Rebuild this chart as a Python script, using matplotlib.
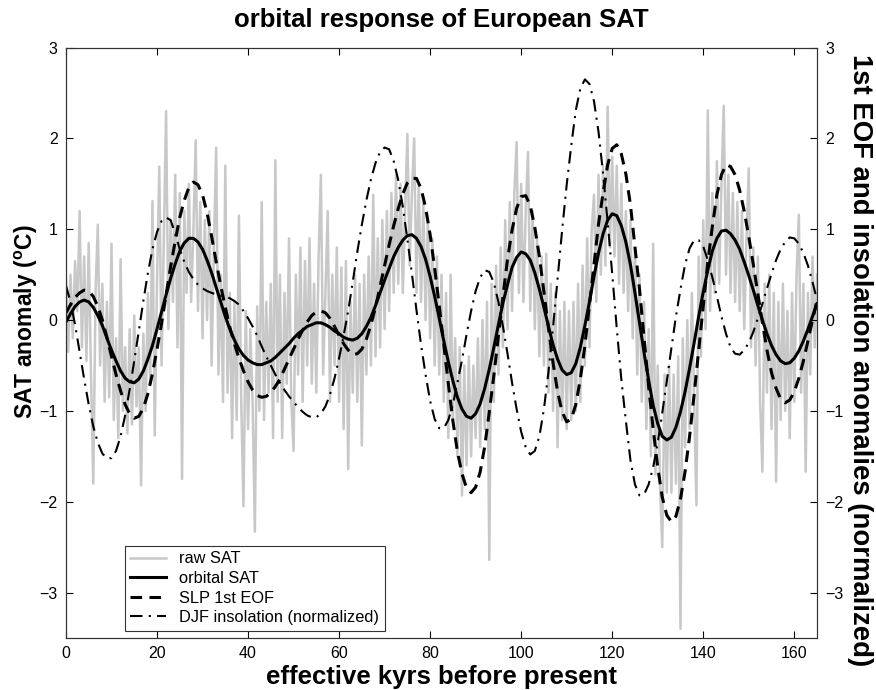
import numpy as np
import matplotlib
matplotlib.use("Agg")
import matplotlib.pyplot as plt

plt.rcParams['font.family'] = ['Liberation Sans', 'DejaVu Sans']

title = "orbital response of European SAT"
xlabel = "effective kyrs before present"
ylabel_left = "SAT anomaly ($^{\\mathregular{o}}$C)"
ylabel_right = "1st EOF and insolation anomalies (normalized)"
legend_labels = ["raw SAT", "orbital SAT", "SLP 1st EOF", "DJF insolation (normalized)"]
x_ticks = [0, 20, 40, 60, 80, 100, 120, 140, 160]
y_ticks = [-3, -2, -1, 0, 1, 2, 3]

# smooth series, one value per kyr (0..165)
orbital_sat = [
    -0.02, 0.07, 0.15, 0.20, 0.22, 0.20, 0.14, 0.05, -0.06, -0.20,
    -0.33, -0.45, -0.56, -0.64, -0.68, -0.69, -0.65, -0.56, -0.43, -0.28,
    -0.10, 0.09, 0.28, 0.46, 0.62, 0.76, 0.85, 0.90, 0.90, 0.86,
    0.78, 0.66, 0.52, 0.36, 0.20, 0.04, -0.10, -0.22, -0.32, -0.39,
    -0.44, -0.47, -0.49, -0.49, -0.47, -0.45, -0.41, -0.36, -0.31, -0.26,
    -0.20, -0.15, -0.11, -0.07, -0.05, -0.03, -0.03, -0.05, -0.08, -0.12,
    -0.15, -0.19, -0.21, -0.22, -0.20, -0.15, -0.07, 0.03, 0.16, 0.30,
    0.44, 0.57, 0.70, 0.80, 0.88, 0.93, 0.94, 0.90, 0.81, 0.67,
    0.48, 0.26, 0.02, -0.23, -0.46, -0.67, -0.85, -0.98, -1.06, -1.08,
    -1.03, -0.92, -0.75, -0.54, -0.30, -0.05, 0.19, 0.39, 0.58, 0.69,
    0.75, 0.73, 0.66, 0.52, 0.34, 0.14, -0.07, -0.27, -0.43, -0.55,
    -0.60, -0.58, -0.48, -0.30, -0.06, 0.20, 0.48, 0.74, 0.95, 1.10,
    1.17, 1.15, 1.04, 0.86, 0.61, 0.30, -0.03, -0.36, -0.66, -0.94,
    -1.14, -1.28, -1.32, -1.29, -1.18, -1.01, -0.79, -0.53, -0.25, 0.04,
    0.31, 0.55, 0.76, 0.90, 0.98, 0.99, 0.95, 0.88, 0.78, 0.64,
    0.49, 0.33, 0.16, 0.00, -0.15, -0.28, -0.38, -0.45, -0.48, -0.47,
    -0.42, -0.34, -0.23, -0.10, 0.04, 0.18]

slp_eof = [
    0.08, 0.17, 0.25, 0.30, 0.33, 0.32, 0.26, 0.15, 0.00, -0.19,
    -0.40, -0.60, -0.78, -0.93, -1.03, -1.08, -1.06, -0.97, -0.81, -0.59,
    -0.32, -0.04, 0.28, 0.59, 0.87, 1.13, 1.32, 1.46, 1.52, 1.49,
    1.38, 1.18, 0.92, 0.64, 0.38, 0.14, -0.08, -0.26, -0.42, -0.56,
    -0.68, -0.77, -0.83, -0.85, -0.84, -0.80, -0.73, -0.65, -0.54, -0.43,
    -0.32, -0.21, -0.11, -0.02, 0.05, 0.09, 0.10, 0.08, 0.02, -0.07,
    -0.17, -0.26, -0.33, -0.38, -0.37, -0.32, -0.21, -0.05, 0.14, 0.37,
    0.60, 0.83, 1.04, 1.23, 1.39, 1.51, 1.56, 1.56, 1.45, 1.24,
    0.94, 0.57, 0.16, -0.27, -0.70, -1.11, -1.45, -1.69, -1.85, -1.90,
    -1.84, -1.67, -1.39, -1.01, -0.61, -0.17, 0.26, 0.67, 0.99, 1.23,
    1.36, 1.37, 1.26, 1.02, 0.70, 0.31, -0.09, -0.47, -0.79, -1.01,
    -1.12, -1.09, -0.93, -0.65, -0.28, 0.16, 0.61, 1.06, 1.40, 1.71,
    1.89, 1.93, 1.83, 1.61, 1.27, 0.81, 0.34, -0.20, -0.73, -1.20,
    -1.62, -1.95, -2.15, -2.22, -2.16, -1.97, -1.67, -1.28, -0.82, -0.33,
    0.17, 0.64, 1.03, 1.38, 1.60, 1.71, 1.69, 1.60, 1.43, 1.20,
    0.92, 0.61, 0.29, -0.03, -0.33, -0.58, -0.75, -0.87, -0.91, -0.88,
    -0.79, -0.64, -0.45, -0.23, 0.00, 0.22]

djf_insolation = [
    0.38, 0.20, -0.05, -0.35, -0.65, -0.93, -1.17, -1.35, -1.47, -1.52,
    -1.52, -1.44, -1.28, -1.05, -0.76, -0.45, -0.12, 0.21, 0.52, 0.78,
    0.97, 1.09, 1.13, 1.10, 0.95, 0.78, 0.64, 0.53, 0.45, 0.39,
    0.35, 0.32, 0.30, 0.28, 0.27, 0.26, 0.24, 0.21, 0.17, 0.10,
    0.02, -0.07, -0.17, -0.29, -0.40, -0.50, -0.60, -0.69, -0.77, -0.84,
    -0.90, -0.96, -1.01, -1.05, -1.07, -1.07, -1.03, -0.95, -0.82, -0.64,
    -0.42, -0.17, 0.10, 0.42, 0.75, 1.05, 1.32, 1.55, 1.73, 1.85,
    1.90, 1.88, 1.75, 1.54, 1.25, 0.89, 0.51, 0.11, -0.27, -0.60,
    -0.89, -1.09, -1.19, -1.19, -1.10, -0.93, -0.69, -0.44, -0.16, 0.10,
    0.32, 0.47, 0.55, 0.53, 0.41, 0.20, -0.07, -0.37, -0.69, -0.98,
    -1.23, -1.40, -1.48, -1.44, -1.28, -0.98, -0.57, -0.08, 0.45, 0.99,
    1.49, 1.92, 2.31, 2.55, 2.65, 2.60, 2.41, 2.07, 1.61, 1.08,
    0.51, -0.09, -0.65, -1.11, -1.54, -1.81, -1.93, -1.92, -1.81, -1.62,
    -1.35, -1.02, -0.67, -0.31, 0.04, 0.34, 0.61, 0.79, 0.88, 0.88,
    0.81, 0.66, 0.47, 0.26, 0.04, -0.15, -0.30, -0.37, -0.38, -0.33,
    -0.25, -0.13, 0.02, 0.18, 0.35, 0.51, 0.66, 0.78, 0.86, 0.91,
    0.90, 0.84, 0.74, 0.60, 0.42, 0.22]

# raw SAT, one value per 0.5 kyr (0..165)
raw_sat = [
    0.45, -0.35, 0.5, -0.2, 0.65, 0.1, 1.2, -0.3, 0.7, -0.45,
    0.85, -0.6, -1.8, 0.3, 1.05, -0.5, 0.4, -0.9, 0.2, -0.85,
    0.84, -1.1, -0.2, -1.3, 0.67, -1.0, -0.3, -1.25, -0.1, -1.15,
    0.05, -0.95, -0.3, -1.82, -0.15, -1.0, 0.3, -0.7, 1.31, -1.27,
    0.4, 1.69, -0.5, 0.9, 2.3, -0.1, 1.1, 0.2, 1.6, -0.3,
    1.4, -1.75, 1.2, 0.3, 1.5, 0.2, 1.0, 1.98, 0.1, 1.3,
    -0.2, 1.1, 0.0, 1.2, -0.5, 0.8, 1.9, -0.6, 0.5, -0.9,
    1.7, -0.8, 0.3, -1.3, 0.2, -1.1, 1.15, -0.9, -2.05, 0.1,
    -1.2, -0.1, -0.9, -2.33, 0.15, -1.0, 1.3, -1.1, 0.2, -0.8,
    0.4, -1.3, 1.76, -0.9, 0.5, -1.3, 0.3, -0.7, 0.9, -0.9,
    -1.44, 0.5, -0.6, 0.8, -0.9, 0.65, -0.5, 0.9, -0.7, 0.4,
    -0.8, 0.7, 1.6, -0.6, 0.3, 1.2, -0.9, 0.5, -0.5, 0.8,
    -0.9, 0.58, -1.2, 0.65, -1.64, 0.2, -0.8, 0.5, -0.9, 0.4,
    -1.38, 0.5, -0.6, 0.7, -0.5, 1.38, -0.4, 0.9, -0.3, 1.1,
    -0.1, 1.2, 0.1, 1.4, 0.3, 1.6, 0.4, 1.5, 0.3, 1.2,
    2.05, 0.6, 1.4, 2.0, 0.3, 1.5, 0.2, 1.3, 0.0, 1.1,
    -0.2, 0.9, -0.5, 0.7, -0.6, 0.5, -0.9, 0.3, -1.3, 0.5,
    -1.1, -0.2, -1.5, -0.3, -1.93, -0.5, -1.6, -0.4, -1.5, -0.5,
    -1.3, -0.2, -1.4, 0.0, -1.2, 0.2, -2.64, 0.4, -0.9, 0.6,
    -0.6, 0.8, -0.3, 1.1, -0.1, 1.3, 0.1, 1.4, 1.96, 0.3,
    1.5, 0.2, 1.2, 1.85, 0.1, 1.2, -0.1, 0.9, -0.4, 0.7,
    -0.5, 0.73, -0.8, 0.4, -1.0, 0.3, -1.4, 0.1, -1.1, 0.2,
    -1.2, 0.1, -1.1, 0.2, -1.0, 0.4, -0.9, 0.6, -0.5, 0.9,
    -0.3, 1.0, 1.38, 0.2, 1.6, 0.5, 1.7, 0.6, 2.35, 0.8,
    1.8, 0.7, 1.7, 0.4, 1.5, 0.3, 1.2, 0.1, 1.1, -0.2,
    0.8, -0.6, 0.5, -0.9, 0.2, -1.2, -0.1, -1.5, 0.84, -1.7,
    -0.5, -1.8, -2.5, -0.6, -1.9, -0.5, -1.9, -0.6, -1.8, -0.4,
    -3.4, -0.2, -1.4, 0.0, -1.2, 0.3, -0.9, -2.04, 0.7, -0.4,
    1.1, -0.1, 2.31, 0.1, 1.4, 0.3, 1.75, 0.4, 1.5, 2.36,
    0.5, 1.6, 0.3, 1.4, 0.2, 1.3, 0.1, 1.2, -0.1, 0.9,
    1.67, -0.3, 0.8, -0.5, 0.7, -0.9, -1.67, 0.4, -0.8, 0.5,
    -1.2, 0.3, -1.78, 0.2, -1.1, 0.4, -1.0, 0.1, -1.3, 0.3,
    -0.9, 0.5, 1.16, -0.8, 0.4, -1.67, 0.3, -0.6, 0.7, -0.3,
    0.5]

kyr = np.arange(len(orbital_sat))
raw_kyr = np.arange(len(raw_sat)) * 0.5

fig = plt.figure(figsize=(8.76, 6.90), dpi=100)
ax = fig.add_axes([0.0753, 0.0754, 0.8574, 0.8556])

h_raw, = ax.plot(raw_kyr, raw_sat, color='#c8c8c8', lw=1.8, zorder=1)
h_orb, = ax.plot(kyr, orbital_sat, color='black', lw=2.2, zorder=3)
h_slp, = ax.plot(kyr, slp_eof, color='black', lw=2.2, ls=(0, (3.8, 2.4)), zorder=4)
h_ins, = ax.plot(kyr, djf_insolation, color='black', lw=1.5, ls=(0, (6, 3, 1, 3)), zorder=5)

ax.set_xlim(0, 165)
ax.set_ylim(-3.5, 3)
ax.set_xticks(x_ticks)
ax.set_yticks(y_ticks)
ax.tick_params(direction='in', top=True, right=False, length=5, width=0.8,
               labelsize=11.5, pad=6)
for s in ax.spines.values():
    s.set_linewidth(0.8)
    s.set_color('#333333')

ax2 = ax.twinx()
ax2.set_ylim(-3.5, 3)
ax2.set_yticks(y_ticks)
ax2.tick_params(direction='in', length=5, width=0.8, labelsize=11.5, pad=6)
for s in ax2.spines.values():
    s.set_linewidth(0.8)
    s.set_color('#333333')

ax.set_title(title, fontsize=18.5, fontweight='bold', pad=15)
ax.set_xlabel(xlabel, fontsize=18.5, fontweight='bold', labelpad=3)
ax.set_ylabel(ylabel_left, fontsize=16.5, fontweight='bold')
ax.yaxis.set_label_coords(-0.034, 0.535)
ax2.set_ylabel(ylabel_right, fontsize=19.8, fontweight='bold', rotation=-90, va='center')
ax2.yaxis.set_label_coords(1.057, 0.47)

leg = ax.legend([h_raw, h_orb, h_slp, h_ins], legend_labels, loc='lower left',
                bbox_to_anchor=(0.078, 0.012), fontsize=11.8, frameon=True,
                fancybox=False, framealpha=1, edgecolor='#333333',
                handlelength=2.2, labelspacing=0.28, borderpad=0.35,
                handletextpad=0.8, borderaxespad=0.0)
leg.get_frame().set_linewidth(0.8)

fig.savefig('out.png', dpi=100)
